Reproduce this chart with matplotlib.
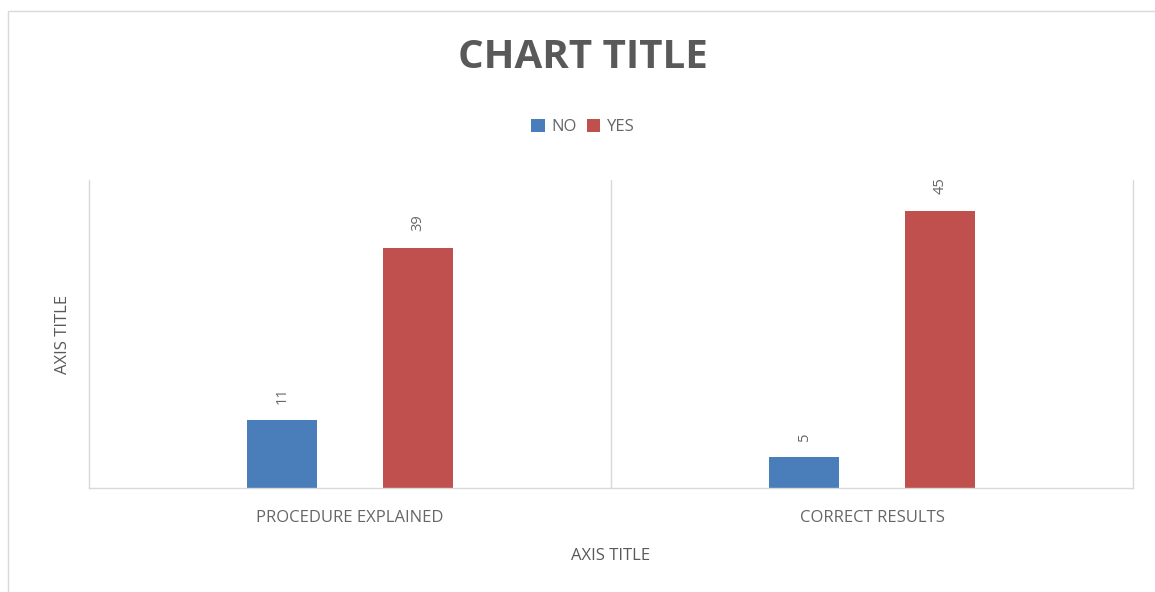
import matplotlib.pyplot as plt
import numpy as np

# chart data
categories = ["PROCEDURE EXPLAINED", "CORRECT RESULTS"]
no_vals = [11, 5]
yes_vals = [39, 45]

blue = "#4a7ebb"
red = "#c0504d"
grey_txt = "#595959"
line_col = "#d9d9d9"

plt.rcParams['font.family'] = ['Open Sans', 'DejaVu Sans']

fig = plt.figure(figsize=(11.55, 5.92), dpi=100)
ax = fig.add_axes([89/1155, 104/592, (1133-89)/1155, (488-180)/592])

x = np.arange(len(categories))
w = 0.134
off = 0.13
b1 = ax.bar(x - off, no_vals, w, color=blue, label="NO")
b2 = ax.bar(x + off, yes_vals, w, color=red, label="YES")

for bars in (b1, b2):
    for r in bars:
        ax.annotate(str(int(r.get_height())), (r.get_x() + r.get_width()/2, r.get_height()),
                    xytext=(0, 12), textcoords="offset points", rotation=90,
                    ha="center", va="bottom", fontsize=10.5, color="#666666")

ax.set_xlim(-0.5, 1.5)
ax.set_ylim(0, 50)
ax.set_yticks([])
ax.set_xticks(x)
ax.set_xticklabels(categories, fontsize=12, color="#666666")
ax.tick_params(axis="x", length=0, pad=16)
ax.axvline(0.5, color=line_col, lw=1)

ax.spines["top"].set_visible(False)
for s in ("left", "right", "bottom"):
    ax.spines[s].set_color(line_col)
    ax.spines[s].set_linewidth(1)

ax.set_xlabel("AXIS TITLE", fontsize=12, color=grey_txt, labelpad=16)
ax.set_ylabel("AXIS TITLE", fontsize=12, color=grey_txt, labelpad=13)

fig.text(583/1155, 1 - 57/592, "CHART TITLE", ha="center", va="center",
         fontsize=29, fontweight="bold", color=grey_txt)
fig.legend(handles=[b1, b2], loc="center", bbox_to_anchor=(583/1155, 1 - 127/592),
           ncol=2, frameon=False, fontsize=12, handlelength=0.8, handleheight=0.8,
           handletextpad=0.4, columnspacing=0.6, labelcolor="#666666")

# outer border of the chart area
fig.patches.append(plt.Rectangle((8/1155, -0.01), 1.02, 1 - 11/592 + 0.01,
                                 transform=fig.transFigure, fill=False,
                                 edgecolor=line_col, lw=1))

fig.savefig("out.png", dpi=100)
